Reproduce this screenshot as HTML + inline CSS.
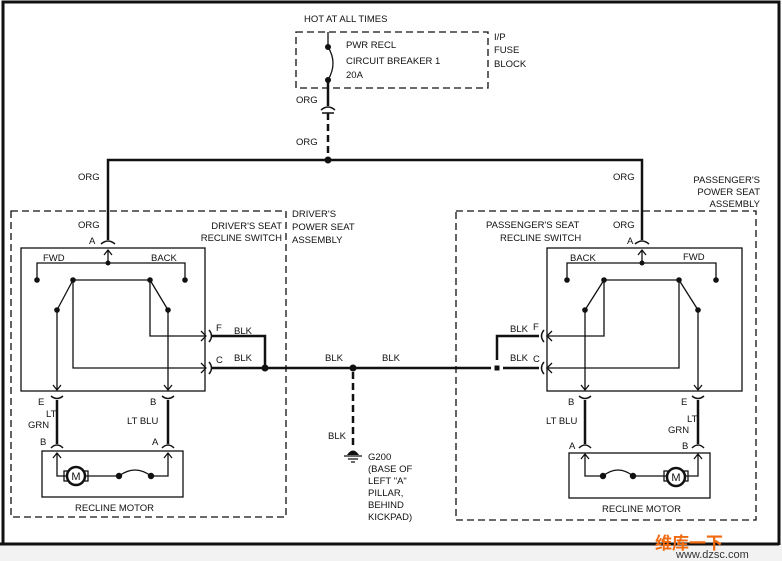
<!DOCTYPE html>
<html><head><meta charset="utf-8"><style>
body{margin:0;background:#fff}
svg{display:block}
text{font-family:"Liberation Sans",Arial,sans-serif;font-size:9.5px;fill:#111}
</style></head><body>
<svg width="782" height="561" viewBox="0 0 782 561" xmlns="http://www.w3.org/2000/svg">
<rect x="0" y="0" width="782" height="561" fill="#fff"/>
<rect x="0" y="545" width="782" height="16" fill="#f2f2f2"/>
<g fill="none" stroke="#111">
<path d="M3,545 V2 H779 V545" stroke-width="3"/>
<line x1="0" y1="544" x2="779" y2="544" stroke-width="3"/>
<g stroke-width="1.3" stroke-dasharray="7,4">
<rect x="296" y="32" width="192" height="56"/>
<rect x="11" y="211" width="275" height="306"/>
<rect x="456" y="211" width="300" height="309"/>
<line x1="328" y1="113" x2="328" y2="157" stroke-width="2.5"/>
<line x1="353" y1="372" x2="353" y2="448" stroke-width="2.5"/>
</g>
<line x1="328" y1="32" x2="328" y2="47" stroke-width="1.3"/>
<path d="M328,47 Q338,63 328,80" stroke-width="1.3"/>
<line x1="328" y1="80" x2="328" y2="106" stroke-width="2.5"/>
<path d="M321,110 Q328,104 335,110" stroke-width="1.5"/>
<line x1="322" y1="113" x2="334" y2="113" stroke-width="1.5"/>
<path d="M108,240 V160 H642 V240" stroke-width="2.5"/>
<path d="M101,244 Q108,238 115,244" stroke-width="1.5"/>
<path d="M635,244 Q642,238 649,244" stroke-width="1.5"/>
<rect x="21" y="248" width="184" height="143" stroke-width="1.3"/>
<rect x="547" y="248" width="195" height="143" stroke-width="1.3"/>
<g stroke-width="1.3">
<path d="M104,255 L108,250 L112,255 M108,250 V263"/>
<path d="M37,280 V263 H185 V280"/>
<path d="M73,280 H150"/>
<path d="M57,310 L73,280 M168,310 L150,280"/>
<path d="M57,310 V390 M168,310 V390"/>
<path d="M53,385 L57,390 L61,385 M164,385 L168,390 L172,385"/>
<path d="M150,280 V336 H206 M73,280 V368 H206"/>
<path d="M201,331 L206,336 L201,341 M201,363 L206,368 L201,373"/>
<path d="M638,255 L642,250 L646,255 M642,250 V263"/>
<path d="M567,280 V263 H716 V280"/>
<path d="M604,280 H679"/>
<path d="M585,310 L604,280 M698,310 L679,280"/>
<path d="M585,310 V390 M698,310 V390"/>
<path d="M581,385 L585,390 L589,385 M694,385 L698,390 L702,385"/>
<path d="M604,280 V336 H547 M679,280 V368 H547"/>
<path d="M552,331 L547,336 L552,341 M552,363 L547,368 L552,373"/>
</g>
<g stroke-width="1.5">
<path d="M209,330 Q214,336 209,342 M209,362 Q214,368 209,374"/>
<path d="M544,330 Q539,336 544,342 M544,362 Q539,368 544,374"/>
</g>
<g stroke-width="2.5">
<path d="M212,336 H265 V368"/>
<path d="M212,368 H491"/>
<path d="M539,336 H497 V360"/>
<path d="M503,368 H539"/>
<path d="M57,400 V444 M168,400 V444"/>
<path d="M585,400 V444 M698,400 V444"/>
</g>
<g stroke-width="1.5">
<path d="M51,396 Q57,401 63,396 M162,396 Q168,401 174,396"/>
<path d="M579,396 Q585,401 591,396 M692,396 Q698,401 704,396"/>
<path d="M51,448 Q57,442 63,448 M162,448 Q168,442 174,448"/>
<path d="M579,448 Q585,442 591,448 M692,448 Q698,442 704,448"/>
</g>
<rect x="42" y="451" width="141" height="46" stroke-width="1.3"/>
<rect x="569" y="453" width="141" height="45" stroke-width="1.3"/>
<g stroke-width="1.3">
<path d="M53,458 L57,453 L61,458 M57,453 V476 H66 M86,476 H119 M151,476 H168 V453 M164,458 L168,453 L172,458"/>
<path d="M119,476 Q135,464 151,476"/>
<path d="M581,459 L585,454 L589,459 M585,454 V476 H603 M633,476 H666 M686,476 H698 V454 M694,459 L698,454 L702,459"/>
<path d="M603,476 Q618,464 633,476"/>
<rect x="64" y="471" width="4" height="10"/><rect x="84" y="471" width="4" height="10"/>
<rect x="664" y="471" width="4" height="10"/><rect x="684" y="471" width="4" height="10"/>
</g>
<circle cx="76" cy="476" r="9" stroke-width="2.5" fill="#fff"/>
<circle cx="676" cy="477" r="9" stroke-width="2.5" fill="#fff"/>
<path d="M344,456 H362 M348,459 H358 M351,462 H355" stroke-width="1.3"/>
</g>
<g fill="#111">
<circle cx="328" cy="47" r="3"/><circle cx="328" cy="80" r="3"/>
<circle cx="328" cy="160" r="3.5"/>
<circle cx="108" cy="263" r="2.5"/><circle cx="642" cy="263" r="2.5"/>
<circle cx="37" cy="280" r="2.8"/><circle cx="185" cy="280" r="2.8"/>
<circle cx="73" cy="280" r="2.8"/><circle cx="150" cy="280" r="2.8"/>
<circle cx="57" cy="310" r="2.8"/><circle cx="168" cy="310" r="2.8"/>
<circle cx="567" cy="280" r="2.8"/><circle cx="716" cy="280" r="2.8"/>
<circle cx="604" cy="280" r="2.8"/><circle cx="679" cy="280" r="2.8"/>
<circle cx="585" cy="310" r="2.8"/><circle cx="698" cy="310" r="2.8"/>
<circle cx="265" cy="368" r="3.5"/><circle cx="353" cy="368" r="3.5"/>
<rect x="494.5" y="365.5" width="5" height="5"/>
<circle cx="119" cy="476" r="3.2"/><circle cx="151" cy="476" r="3.2"/>
<circle cx="603" cy="476" r="3.2"/><circle cx="633" cy="476" r="3.2"/>
<path d="M347,455 Q353,446 359,455 Z"/>
</g>
<g>
<text x="76" y="480" text-anchor="middle" style="font-size:11px">M</text>
<text x="676" y="481" text-anchor="middle" style="font-size:11px">M</text>
<text x="304" y="22">HOT AT ALL TIMES</text>
<text x="346" y="48">PWR RECL</text>
<text x="346" y="64">CIRCUIT BREAKER 1</text>
<text x="346" y="78">20A</text>
<text x="494" y="40">I/P</text>
<text x="494" y="53">FUSE</text>
<text x="494" y="67">BLOCK</text>
<text x="296" y="103">ORG</text>
<text x="296" y="145">ORG</text>
<text x="78" y="180">ORG</text>
<text x="613" y="180">ORG</text>
<text x="760" y="183" text-anchor="end">PASSENGER'S</text>
<text x="760" y="195" text-anchor="end">POWER SEAT</text>
<text x="760" y="207" text-anchor="end">ASSEMBLY</text>
<text x="292" y="217">DRIVER'S</text>
<text x="292" y="230">POWER SEAT</text>
<text x="292" y="243">ASSEMBLY</text>
<text x="282" y="229" text-anchor="end">DRIVER'S SEAT</text>
<text x="282" y="241" text-anchor="end">RECLINE SWITCH</text>
<text x="78" y="228">ORG</text>
<text x="89" y="244">A</text>
<text x="43" y="261">FWD</text>
<text x="151" y="261">BACK</text>
<text x="216" y="331">F</text>
<text x="234" y="334">BLK</text>
<text x="216" y="363">C</text>
<text x="234" y="361">BLK</text>
<text x="325" y="361">BLK</text>
<text x="382" y="361">BLK</text>
<text x="328" y="439">BLK</text>
<text x="368" y="460">G200</text>
<text x="368" y="472">(BASE OF</text>
<text x="368" y="484">LEFT "A"</text>
<text x="368" y="496">PILLAR,</text>
<text x="368" y="508">BEHIND</text>
<text x="368" y="520">KICKPAD)</text>
<text x="38" y="405">E</text>
<text x="46" y="417">LT</text>
<text x="28" y="428">GRN</text>
<text x="40" y="445">B</text>
<text x="150" y="405">B</text>
<text x="127" y="424">LT BLU</text>
<text x="152" y="445">A</text>
<text x="75" y="511">RECLINE MOTOR</text>
<text x="486" y="228">PASSENGER'S SEAT</text>
<text x="500" y="241">RECLINE SWITCH</text>
<text x="613" y="228">ORG</text>
<text x="627" y="244">A</text>
<text x="570" y="261">BACK</text>
<text x="683" y="260">FWD</text>
<text x="510" y="332">BLK</text>
<text x="533" y="330">F</text>
<text x="510" y="361">BLK</text>
<text x="533" y="362">C</text>
<text x="568" y="405">B</text>
<text x="546" y="424">LT BLU</text>
<text x="569" y="449">A</text>
<text x="681" y="405">E</text>
<text x="687" y="422">LT</text>
<text x="668" y="433">GRN</text>
<text x="682" y="449">B</text>
<text x="602" y="512">RECLINE MOTOR</text>
<text x="655" y="549" style="font-size:17px;fill:#f06a10;font-weight:bold;font-family:'Liberation Sans','Noto Sans CJK SC',sans-serif">维库一下</text>
<text x="676" y="558" style="font-size:11px;fill:#333">www.dzsc.com</text>
</g>
</svg>
</body></html>
